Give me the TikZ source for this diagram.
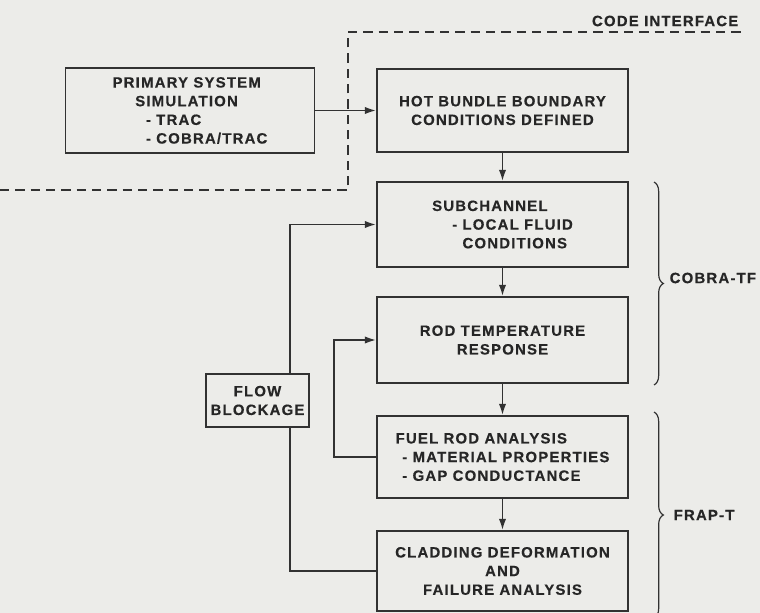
\documentclass[tikz,border=0pt]{standalone}
\usepackage{fontspec}
\setmainfont{Liberation Sans}[LetterSpace=8, BoldFeatures={FakeBold=0.4}]
\usetikzlibrary{arrows.meta,decorations.pathreplacing}

\definecolor{paper}{RGB}{236,236,233}
\definecolor{ink}{RGB}{50,50,50}
\definecolor{inktext}{RGB}{38,38,38}

\tikzset{
  lbl/.style={font=\fontsize{11.2}{14}\selectfont\bfseries, text=inktext},
  block/.style={draw=ink, line width=1.3pt, rectangle, inner sep=0pt, lbl, align=center},
  flow/.style={draw=ink, line width=1.3pt},
  arr/.style={flow, -{Latex[length=8.5pt,width=5.5pt]}},
  iface/.style={draw=ink, line width=0.8pt, dash pattern=on 7pt off 4.5pt},
  grp/.style={draw=ink, line width=0.9pt, decorate, decoration={brace, amplitude=7pt}},
}

\begin{document}
\begin{tikzpicture}[x=0.75pt, y=-0.75pt]
  % page
  \fill[paper] (0,0) rectangle (760,613);
  \useasboundingbox (0,0) rectangle (760,613);

  % code interface boundary
  \draw[iface] (0,190) -- (348,190) -- (348,32) -- (742,32);
  \node[lbl, anchor=east] (ifacelbl) at (743,21) {CODE INTERFACE};

  % blocks
  \node[block, minimum width=186.75pt, minimum height=63.75pt, align=left] (prim) at (190,110.5)
    {PRIMARY SYSTEM\\ \hspace*{17pt}SIMULATION\\ \hspace*{25pt}- TRAC\\ \hspace*{25pt}- COBRA/TRAC};
  \node[block, minimum width=188.25pt, minimum height=62.25pt] (hot) at (502.5,110.5)
    {HOT BUNDLE BOUNDARY\\ CONDITIONS DEFINED};
  \node[block, minimum width=188.25pt, minimum height=63.75pt, align=left] (sub) at (502.5,224.5)
    {SUBCHANNEL\\ \hspace*{15pt}- LOCAL FLUID\\ \hspace*{15pt}\phantom{- }CONDITIONS};
  \node[block, minimum width=188.25pt, minimum height=64.5pt] (rod) at (502.5,340)
    {ROD TEMPERATURE\\ RESPONSE};
  \node[block, minimum width=188.25pt, minimum height=61.5pt, align=left] (fuel) at (502.5,457)
    {FUEL ROD ANALYSIS\\ \hspace*{5pt}- MATERIAL PROPERTIES\\ \hspace*{5pt}- GAP CONDUCTANCE};
  \node[block, minimum width=188.25pt, minimum height=60pt] (clad) at (502.5,571)
    {CLADDING DEFORMATION\\ AND\\ FAILURE ANALYSIS};
  \node[block, minimum width=77.25pt, minimum height=39.75pt] (fb) at (257.5,400.5)
    {FLOW\\ BLOCKAGE};

  % guide columns for the side routes
  \coordinate (busx) at (290,0);
  \coordinate (backx) at (334,0);

  % main chain
  \draw[arr] (prim.east) -- (hot.west);
  \draw[arr] (hot.south) -- (sub.north);
  \draw[arr] (sub.south) -- (rod.north);
  \draw[arr] (rod.south) -- (fuel.north);
  \draw[arr] (fuel.south) -- (clad.north);

  % flow blockage loop
  \draw[flow] (clad.west) -| (fb.south -| busx);
  \draw[arr] (fb.north -| busx) |- (sub.west);

  % fuel rod feedback to rod temperature
  \draw[arr] (fuel.west) -- (fuel.west -| backx) |- (rod.west);

  % code groupings
  \draw[grp] (654,182) -- (654,385);
  \node[lbl, anchor=west] (cobra) at (665,278) {COBRA-TF};
  \draw[grp] (654,412) -- (654,618);
  \node[lbl, anchor=west] (frap) at (669,515) {FRAP-T};
\end{tikzpicture}
\end{document}
